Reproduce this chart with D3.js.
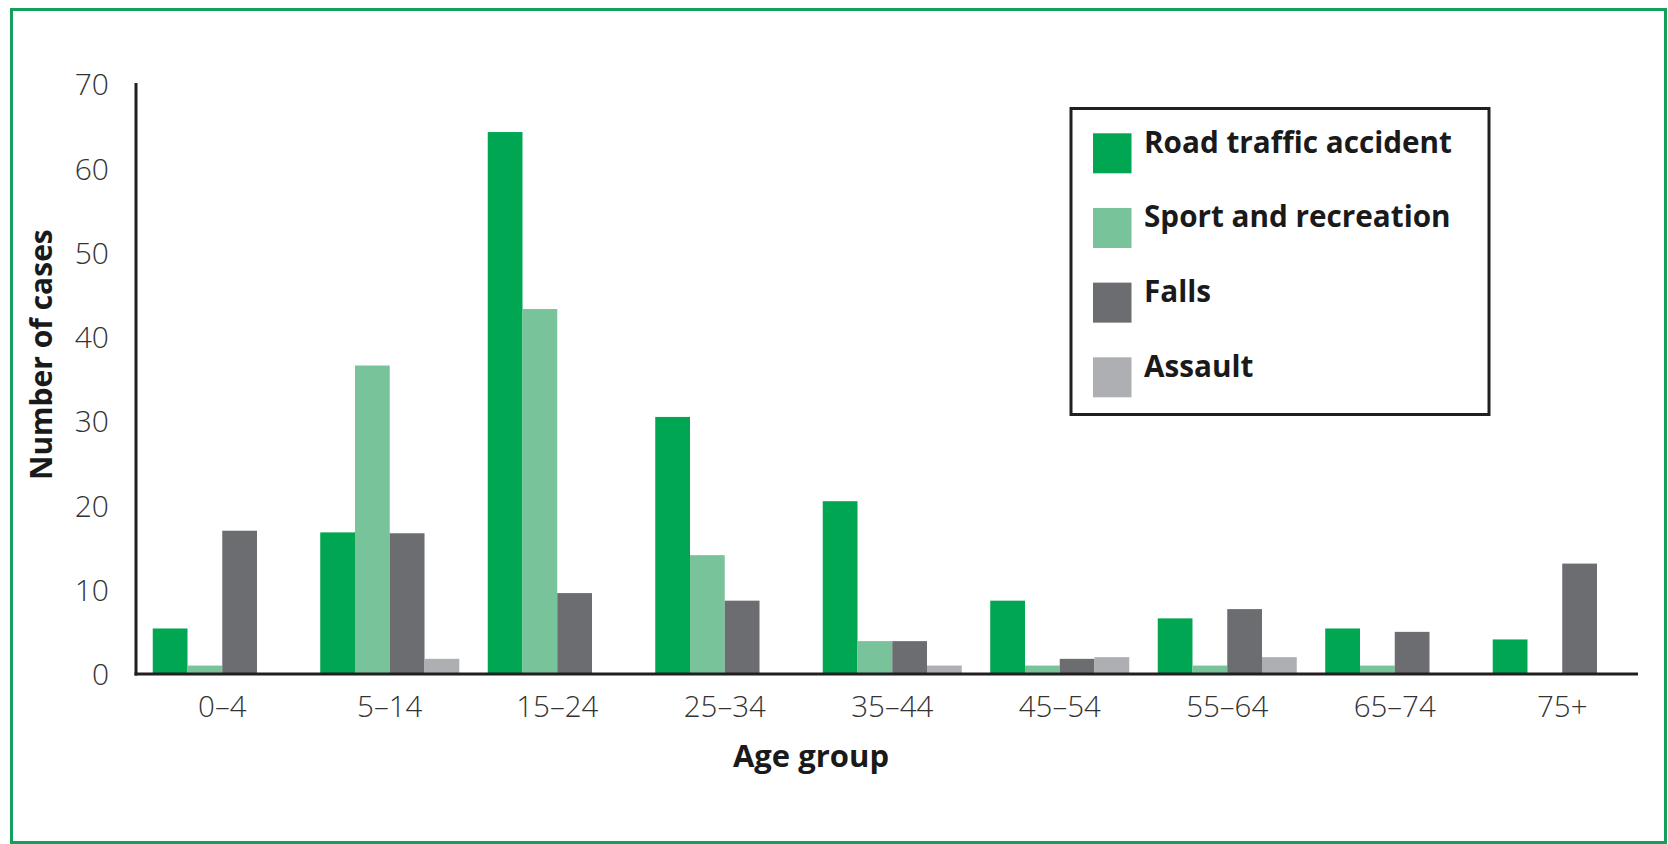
<!DOCTYPE html>
<html>
<head>
<meta charset="utf-8">
<script src="https://cdn.jsdelivr.net/npm/d3@7"></script>
<style>
  html, body { margin: 0; padding: 0; background: #fff; }
  svg { display: block; }
</style>
</head>
<body>
<svg id="chart" width="1668" height="844"></svg>
<script>
// ---- data ----
const ageGroups = ["0–4", "5–14", "15–24", "25–34", "35–44", "45–54", "55–64", "65–74", "75+"];
const seriesNames = ["Road traffic accident", "Sport and recreation", "Falls", "Assault"];
const roadTraffic = [5.4, 16.8, 64.3, 30.5, 20.5, 8.7, 6.6, 5.4, 4.1];
const sportRecreation = [1, 36.6, 43.3, 14.1, 3.9, 1, 1, 1, 0];
const falls = [17, 16.7, 9.6, 8.7, 3.9, 1.8, 7.7, 5.0, 13.1];
const assault = [0, 1.8, 0, 0, 1.0, 2.0, 2.0, 0, 0];
const yTicks = [0, 10, 20, 30, 40, 50, 60, 70];
const seriesColors = ["#00a651", "#79c39a", "#6b6d71", "#adafb3"];

const seriesValues = [roadTraffic, sportRecreation, falls, assault];

// ---- layout ----
const svg = d3.select("#chart");
const axisLeftX = 136, axisRightX = 1638, baseY = 674, topY = 84;
const FONT = "'Open Sans', 'Noto Sans', sans-serif";

// frame
svg.append("rect")
  .attr("x", 11.5).attr("y", 9.5).attr("width", 1654).attr("height", 833)
  .attr("fill", "none").attr("stroke", "#14a05a").attr("stroke-width", 3);

const x0 = d3.scaleBand().domain(ageGroups)
  .range([axisLeftX, 1648.5]).paddingInner(0.17).paddingOuter(0.1);
const x1 = d3.scaleBand().domain(seriesNames).range([0, x0.bandwidth()]);
const y = d3.scaleLinear().domain([0, 70]).range([baseY, topY]);
const color = d3.scaleOrdinal().domain(seriesNames).range(seriesColors);

// bars
const rows = [];
ageGroups.forEach((g, i) => {
  seriesNames.forEach((s, j) => {
    const v = seriesValues[j][i];
    if (v > 0) rows.push({ group: g, series: s, value: v });
  });
});

svg.append("g").selectAll("rect").data(rows).join("rect")
  .attr("x", d => x0(d.group) + x1(d.series))
  .attr("y", d => y(d.value))
  .attr("width", x1.bandwidth())
  .attr("height", d => baseY - y(d.value))
  .attr("fill", d => color(d.series));

// y axis
const yAxis = d3.axisLeft(y).tickValues(yTicks).tickSize(0).tickPadding(27);
const yg = svg.append("g").attr("transform", `translate(${axisLeftX},0)`).call(yAxis);
yg.select(".domain").remove();
yg.selectAll("text")
  .attr("font-family", FONT)
  .attr("font-weight", 300)
  .attr("font-size", 30)
  .attr("fill", "#333")
  .attr("dy", "0.36em");

// x axis labels
const xAxis = d3.axisBottom(x0).tickSize(0).tickPadding(22);
const xg = svg.append("g").attr("transform", `translate(0,${baseY})`).call(xAxis);
xg.select(".domain").remove();
xg.selectAll("text")
  .attr("font-family", FONT)
  .attr("font-weight", 300)
  .attr("font-size", 29.5)
  .attr("fill", "#333")
  .attr("dy", "0.72em");

// axis lines
svg.append("line")
  .attr("x1", axisLeftX).attr("x2", axisLeftX).attr("y1", topY - 1).attr("y2", baseY + 1.5)
  .attr("stroke", "#231f20").attr("stroke-width", 3);
svg.append("line")
  .attr("x1", axisLeftX - 1.5).attr("x2", axisRightX).attr("y1", baseY).attr("y2", baseY)
  .attr("stroke", "#231f20").attr("stroke-width", 3);

// axis titles
svg.append("text")
  .attr("x", 811).attr("y", 767)
  .attr("text-anchor", "middle")
  .attr("font-family", FONT)
  .attr("font-weight", 700).attr("font-size", 31)
  .attr("fill", "#1a1a1a")
  .text("Age group");

svg.append("text")
  .attr("transform", "translate(52,480) rotate(-90)")
  .attr("text-anchor", "start")
  .attr("font-family", FONT)
  .attr("font-weight", 700).attr("font-size", 30)
  .attr("fill", "#1a1a1a")
  .text("Number of cases");

// legend
const lg = svg.append("g");
lg.append("rect")
  .attr("x", 1071).attr("y", 108.5).attr("width", 418).attr("height", 306)
  .attr("fill", "#fff").attr("stroke", "#231f20").attr("stroke-width", 3);

const legendRow = d3.scalePoint().domain(seriesNames).range([133.3, 357.3]);
const items = lg.selectAll("g.item").data(seriesNames).join("g").attr("class", "item");
items.append("rect")
  .attr("x", 1093).attr("y", d => legendRow(d))
  .attr("width", 38.5).attr("height", 40)
  .attr("fill", d => color(d));
items.append("text")
  .attr("x", 1144).attr("y", d => legendRow(d) + 19.5)
  .attr("font-family", FONT)
  .attr("font-weight", 700).attr("font-size", 29.7)
  .attr("fill", "#1a1a1a")
  .text(d => d);
</script>
</body>
</html>
